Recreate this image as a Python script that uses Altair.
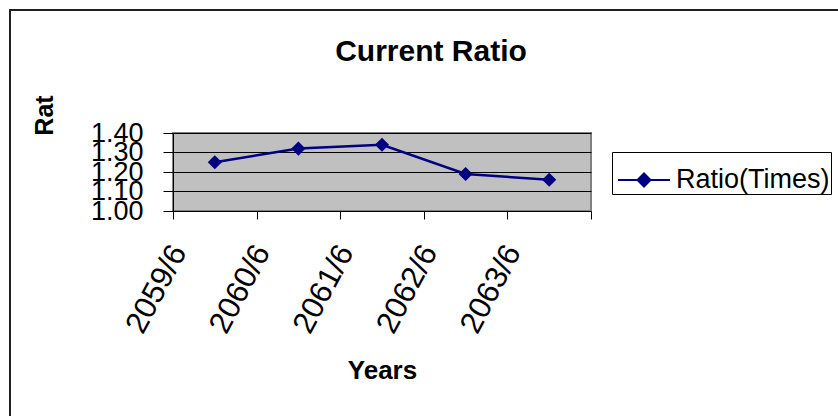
import altair as alt
import pandas as pd

# Fiscal years and the current ratio for each
years = ["2059/6", "2060/6", "2061/6", "2062/6", "2063/6"]
ratio = [1.25, 1.32, 1.34, 1.19, 1.16]
series_name = "Ratio(Times)"
y_ticks = [1.00, 1.10, 1.20, 1.30, 1.40]

df = pd.DataFrame({
    "year": years,
    "ratio": ratio,
    "series": [series_name] * len(years),
})

FONT = "Liberation Sans"
NAVY = "#000080"
# legend glyph: a short line with a diamond in the middle
LEGEND_GLYPH = "M-1,0L1,0M0,-0.25L0.25,0L0,0.25L-0.25,0Z"

x_enc = alt.X(
    "year:N",
    sort=years,
    scale=alt.Scale(type="band", paddingInner=0, paddingOuter=0),
    axis=alt.Axis(
        title="Years",
        tickBand="extent",
        grid=False,
        labelAngle=-62,
        labelAlign="right",
        labelBaseline="middle",
        labelOffset=-36,
        labelPadding=28,
        tickSize=8,
        labelFont=FONT,
        labelFontSize=31,
        labelColor="black",
        labelOverlap=False,
        labelFlush=False,
        domainColor="black",
        tickColor="black",
        titleFont=FONT,
        titleFontSize=26,
        titleFontWeight="bold",
        titleColor="black",
        titleY=167,
        titleBaseline="alphabetic",
    ),
)

y_enc = alt.Y(
    "ratio:Q",
    scale=alt.Scale(domain=[1.0, 1.4], nice=False, zero=False),
    axis=alt.Axis(
        title="Rat",
        values=y_ticks,
        format=".2f",
        grid=True,
        gridColor="black",
        gridOpacity=1,
        gridWidth=1,
        tickSize=10,
        labelPadding=20,
        labelFont=FONT,
        labelFontSize=27,
        labelColor="black",
        labelOverlap=False,
        labelFlush=False,
        domainColor="black",
        tickColor="black",
        titleFont=FONT,
        titleFontSize=25,
        titleFontWeight="bold",
        titleColor="black",
        titleX=-121,
        titleY=-18,
        titleAlign="center",
        titleBaseline="alphabetic",
    ),
)

color_enc = alt.Color(
    "series:N",
    scale=alt.Scale(domain=[series_name], range=[NAVY]),
    legend=alt.Legend(
        title=None,
        orient="none",
        legendX=439,
        legendY=19,
        symbolType=LEGEND_GLYPH,
        symbolSize=2704,
        symbolStrokeWidth=2,
        symbolStrokeColor=NAVY,
        symbolFillColor=NAVY,
        symbolOffset=4,
        labelFont=FONT,
        labelFontSize=27,
        labelColor="black",
        labelOffset=5,
        strokeColor="black",
        fillColor="white",
        padding=1,
    ),
)

# outer chart frame
frame = alt.Chart(pd.DataFrame({"f": [0]})).mark_rect(
    fill="transparent", stroke="#202020", strokeWidth=2
).encode(
    x=alt.value(-163), x2=alt.value(900),
    y=alt.value(-123), y2=alt.value(400),
)

base = alt.Chart(df)
line = base.mark_line(strokeWidth=2.5).encode(x=x_enc, y=y_enc, color=color_enc)
points = base.mark_point(shape="diamond", filled=True, size=200, opacity=1).encode(
    x=x_enc, y=y_enc, color=color_enc
)

chart = (
    alt.layer(frame, line, points)
    .properties(
        width=418,
        height=78,
        title=alt.Title(
            "Current Ratio",
            font=FONT,
            fontSize=30,
            fontWeight="bold",
            color="black",
            anchor="middle",
            frame="group",
            baseline="alphabetic",
            offset=0,
            dx=49,
            dy=82,
        ),
        autosize=alt.AutoSizeParams(type="none"),
        padding={"left": 173, "top": 133, "right": 247, "bottom": 205},
        background="white",
    )
    .configure_view(fill="#C0C0C0", stroke="#808080", strokeWidth=2)
)

chart.save("out.html", embed_options={"renderer": "svg", "actions": False})
